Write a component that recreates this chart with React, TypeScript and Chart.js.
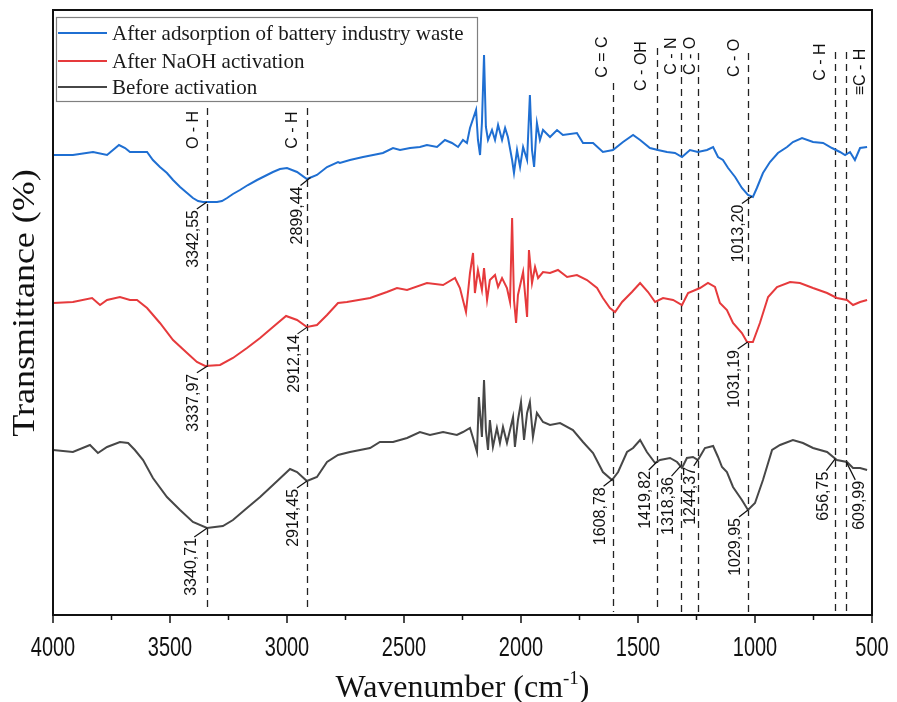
import React, { useEffect, useRef } from 'react';
import { Chart, registerables } from 'chart.js';

Chart.register(...registerables);

// ---------------- DATA ----------------
// wavenumber (cm-1), relative transmittance (offset curves, arbitrary units)
const afterAdsorption: [number, number][] = [
  [4000, 92.0], [3915, 92.0], [3829, 92.6], [3769, 92.0], [3718, 94.0], [3692, 93.4], [3671, 92.6],
  [3628, 92.6], [3598, 92.6], [3573, 91.0], [3543, 89.6], [3513, 88.4], [3487, 87.0], [3457, 85.6],
  [3427, 84.4], [3402, 83.4], [3380, 82.8], [3359, 82.6], [3299, 82.6], [3278, 82.8], [3256, 83.4],
  [3231, 84.2], [3201, 85.0], [3167, 86.0], [3128, 87.0], [3094, 87.8], [3060, 88.6], [3030, 89.2],
  [3000, 89.4], [2957, 88.6],
  [2915, 87.2], [2872, 88.0], [2829, 89.6], [2782, 90.6], [2774, 90.4], [2731, 91.0], [2675, 91.6],
  [2632, 92.0], [2590, 92.4], [2547, 93.4], [2517, 93.0], [2474, 93.4], [2432, 93.6], [2402, 94.0],
  [2359, 93.6], [2325, 95.0], [2295, 94.4], [2269, 93.6], [2248, 95.0], [2231, 94.4], [2218, 97.4],
  [2192, 101.0], [2184, 95.0], [2175, 92.0], [2167, 98.4], [2158, 112.0], [2150, 97.6], [2141, 95.0],
  [2124, 97.0], [2111, 95.0], [2098, 98.0], [2081, 95.0], [2068, 97.4], [2056, 95.6], [2038, 91.0],
  [2030, 88.4], [2017, 93.0], [2004, 89.6], [1991, 93.6], [1974, 91.0], [1962, 104.0], [1953, 93.0],
  [1944, 89.6], [1932, 98.4], [1919, 95.0], [1906, 97.0], [1876, 95.6], [1846, 97.0], [1821, 96.0],
  [1761, 96.4], [1735, 94.4], [1692, 94.4], [1650, 92.6], [1607, 93.0], [1564, 94.6], [1521, 96.0],
  [1491, 95.0], [1449, 93.4], [1415, 93.0], [1376, 92.6], [1342, 92.4], [1312, 91.6], [1278, 93.0],
  [1244, 92.6], [1205, 93.0], [1179, 93.6], [1158, 91.6], [1137, 91.0], [1115, 89.4], [1085, 87.6],
  [1056, 85.4], [1030, 84.0], [1009, 83.6], [992, 85.4], [966, 88.4], [936, 90.6], [902, 92.4],
  [863, 93.6], [838, 94.6], [799, 95.4], [752, 94.6], [709, 94.4], [671, 93.4], [637, 92.6],
  [615, 92.0], [594, 92.6], [573, 91.0], [551, 93.4], [521, 93.6],
];

const afterNaOH: [number, number][] = [
  [4000, 62.4], [3915, 62.6], [3833, 63.4], [3799, 62.0], [3769, 63.0], [3714, 63.6], [3671, 63.0],
  [3641, 63.0], [3598, 61.4], [3543, 58.4], [3487, 55.0], [3427, 52.4], [3385, 50.6], [3350, 49.8],
  [3286, 50.0], [3231, 51.4], [3171, 53.4], [3115, 55.4], [3060, 57.6], [3004, 59.8], [2957, 59.0],
  [2915, 57.6], [2872, 58.0], [2829, 60.0], [2782, 62.4], [2744, 62.6], [2645, 63.4], [2573, 64.6],
  [2530, 65.4], [2487, 65.0], [2402, 66.4], [2333, 66.0], [2282, 67.4], [2261, 65.4], [2235, 60.6],
  [2218, 68.4], [2205, 72.4], [2197, 64.4], [2184, 69.0], [2167, 65.0], [2158, 69.4], [2145, 63.0],
  [2133, 67.0], [2111, 68.0], [2098, 65.6], [2081, 67.4], [2060, 65.4], [2047, 62.6], [2038, 79.4],
  [2030, 63.0], [2021, 58.4], [2013, 64.0], [1991, 68.6], [1974, 59.6], [1966, 73.0], [1953, 66.4],
  [1940, 69.6], [1927, 67.4], [1906, 68.6], [1876, 68.4], [1842, 69.0], [1803, 67.6], [1761, 68.0],
  [1718, 67.0], [1675, 65.4], [1650, 63.4], [1620, 61.4], [1598, 60.6], [1568, 62.6], [1526, 64.6],
  [1491, 66.4], [1457, 64.6], [1427, 62.6], [1393, 63.4], [1350, 63.0], [1312, 62.0], [1286, 64.4],
  [1235, 65.4], [1201, 66.4], [1171, 65.6], [1150, 62.4], [1120, 61.0], [1094, 58.4], [1056, 56.4],
  [1034, 54.6], [1009, 54.6], [979, 58.4], [944, 63.6], [906, 65.6], [850, 66.6], [808, 66.4],
  [752, 65.4], [692, 64.4], [650, 63.4], [607, 63.0], [581, 62.0], [551, 62.6], [521, 63.0],
];

const beforeActivation: [number, number][] = [
  [4000, 33.0], [3915, 32.6], [3842, 34.0], [3808, 32.4], [3769, 33.6], [3714, 34.6], [3679, 34.4],
  [3650, 33.0], [3615, 31.0], [3573, 27.4], [3513, 23.6], [3457, 21.0], [3402, 18.6], [3342, 17.4],
  [3274, 17.8], [3231, 19.0], [3171, 21.4], [3115, 23.6], [3060, 26.0], [2987, 29.2], [2957, 28.6],
  [2915, 26.8], [2872, 27.6], [2829, 30.6], [2782, 32.0], [2731, 32.6], [2645, 33.4], [2603, 34.6],
  [2547, 34.6], [2487, 35.4], [2432, 36.6], [2389, 36.0], [2333, 36.6], [2274, 36.0], [2248, 36.6],
  [2218, 37.4], [2205, 35.4], [2188, 32.6], [2180, 43.6], [2167, 35.6], [2158, 47.0], [2150, 37.0],
  [2141, 33.0], [2133, 39.0], [2120, 33.6], [2103, 37.4], [2090, 34.4], [2077, 37.6], [2060, 34.4],
  [2047, 37.0], [2034, 39.6], [2026, 33.6], [2013, 39.0], [2000, 42.6], [1987, 35.0], [1974, 40.4],
  [1962, 42.6], [1949, 35.6], [1932, 40.4], [1906, 38.6], [1876, 38.0], [1833, 38.4], [1778, 37.0],
  [1735, 34.6], [1692, 32.4], [1650, 28.6], [1611, 27.0], [1585, 28.6], [1547, 32.6], [1521, 33.4],
  [1491, 35.0], [1462, 32.6], [1427, 30.4], [1406, 31.0], [1363, 31.4], [1333, 30.6], [1312, 29.4],
  [1291, 31.4], [1265, 31.6], [1244, 31.0], [1214, 33.4], [1179, 33.8], [1158, 31.6], [1141, 29.6],
  [1120, 28.6], [1094, 25.6], [1056, 23.0], [1030, 21.0], [1000, 22.4], [966, 27.0], [927, 33.0],
  [893, 34.0], [838, 35.0], [795, 34.4], [752, 33.4], [692, 32.6], [650, 31.0], [607, 30.6],
  [581, 29.4], [551, 29.4], [521, 29.0],
];

const seriesNames = ['After adsorption of battery industry waste', 'After NaOH activation', 'Before activation'];

const majorTicks = [4000, 3500, 3000, 2500, 2000, 1500, 1000, 500];
const minorTicks = [3750, 3250, 2750, 2250, 1750, 1250, 750];

const bandWavenumbers = [3340.71, 2914.45, 1608.78, 1419.82, 1318.36, 1244.37, 1029.95, 656.75, 609.99];
const bandNames = ['O - H', 'C - H', 'C = C', 'C - OH', 'C - N', 'C - O', 'C - O', 'C - H', '≡C - H'];

const peakSeries = [0, 0, 0, 1, 1, 1, 2, 2, 2, 2, 2, 2, 2, 2, 2];
const peakWavenumbers = [3342.55, 2899.44, 1013.20, 3337.97, 2912.14, 1031.19, 3340.71, 2914.45, 1608.78, 1419.82, 1318.36, 1244.37, 1029.95, 656.75, 609.99];
const peakTexts = ['3342,55', '2899,44', '1013,20', '3337,97', '2912,14', '1031,19', '3340,71', '2914,45', '1608,78', '1419,82', '1318,36', '1244,37', '1029,95', '656,75', '609,99'];

// ---------------- LAYOUT / STYLE ----------------
const COLORS = ['#1f6fd2', '#e63a3c', '#474747'];
const bandLayout = [
  { top: 101.4, dx: -14, cy: 97.0 },
  { top: 101.4, dx: -14, cy: 97.0 },
  { top: 106.4, dx: -10, cy: 111.6 },
  { top: 113.4, dx: -15, cy: 109.8 },
  { top: 112.4, dx: -9, cy: 111.8 },
  { top: 112.4, dx: -7, cy: 111.8 },
  { top: 112.4, dx: -13, cy: 111.4 },
  { top: 112.6, dx: -15, cy: 110.6 },
  { top: 112.6, dx: 14, cy: 108.6 },
];
const BAND_BOTTOM = 0.6;
const leaderLayout: [number, number][] = [
  [-10, 7], [-10, 8], [-10, 7], [-11, 7], [-10, 7], [-10, 7], [-13, 9], [-10, 7], [-9, 7],
  [-8, 8], [-9, 10], [-4, 6], [-9, 7], [-9, 12], [9, 18],
];

const allSeries = [afterAdsorption, afterNaOH, beforeActivation];

const valueAt = (s: [number, number][], wn: number) => {
  for (let i = 0; i < s.length - 1; i++) {
    const [w1, v1] = s[i];
    const [w2, v2] = s[i + 1];
    if (wn <= w1 && wn >= w2) {
      const t = (w1 - wn) / (w1 - w2);
      return v1 + (v2 - v1) * t;
    }
  }
  return s[s.length - 1][1];
};

const SANS = '"Liberation Sans", Arial, sans-serif';
const SERIF = '"Liberation Serif", "Times New Roman", serif';

const decorPlugin = {
  id: 'decor',
  beforeDatasetsDraw(chart: any) {
    const { ctx } = chart;
    const xs = chart.scales.x;
    const ys = chart.scales.y;
    ctx.save();
    ctx.strokeStyle = '#222';
    ctx.lineWidth = 1.3;
    ctx.setLineDash([7, 5]);
    bandWavenumbers.forEach((wn, i) => {
      const x = Math.round(xs.getPixelForValue(wn)) + 0.5;
      ctx.beginPath();
      ctx.moveTo(x, ys.getPixelForValue(bandLayout[i].top));
      ctx.lineTo(x, ys.getPixelForValue(BAND_BOTTOM));
      ctx.stroke();
    });
    ctx.restore();
  },
  afterDraw(chart: any) {
    const { ctx, chartArea } = chart;
    const xs = chart.scales.x;
    const ys = chart.scales.y;
    const { left, right, top, bottom } = chartArea;
    ctx.save();

    // frame
    ctx.strokeStyle = '#111';
    ctx.lineWidth = 2;
    ctx.setLineDash([]);
    ctx.strokeRect(left, top, right - left, bottom - top);

    // ticks
    ctx.lineWidth = 1.5;
    majorTicks.forEach((w) => {
      const x = xs.getPixelForValue(w);
      ctx.beginPath();
      ctx.moveTo(x, bottom);
      ctx.lineTo(x, bottom + 8);
      ctx.stroke();
    });
    minorTicks.forEach((w) => {
      const x = xs.getPixelForValue(w);
      ctx.beginPath();
      ctx.moveTo(x, bottom);
      ctx.lineTo(x, bottom + 5);
      ctx.stroke();
    });

    // tick labels (condensed)
    ctx.fillStyle = '#111';
    ctx.font = '27px ' + SANS;
    ctx.textAlign = 'center';
    ctx.textBaseline = 'middle';
    majorTicks.forEach((w) => {
      ctx.save();
      ctx.translate(xs.getPixelForValue(w), bottom + 34);
      ctx.scale(0.74, 1);
      ctx.fillText(String(w), 0, 0);
      ctx.restore();
    });

    // x title with superscript
    const cx = (left + right) / 2;
    const ty = bottom + 72;
    ctx.font = '32px ' + SERIF;
    const p1 = 'Wavenumber (cm';
    const p3 = ')';
    const w1 = ctx.measureText(p1).width;
    const w3 = ctx.measureText(p3).width;
    ctx.font = '19px ' + SERIF;
    const sup = '-1';
    const w2 = ctx.measureText(sup).width;
    const start = cx - (w1 + w2 + w3) / 2;
    ctx.textAlign = 'left';
    ctx.textBaseline = 'alphabetic';
    ctx.font = '32px ' + SERIF;
    ctx.fillText(p1, start, ty + 10);
    ctx.font = '19px ' + SERIF;
    ctx.fillText(sup, start + w1, ty - 3);
    ctx.font = '32px ' + SERIF;
    ctx.fillText(p3, start + w1 + w2, ty + 10);

    // y title
    ctx.save();
    ctx.translate(26, 303);
    ctx.rotate(-Math.PI / 2);
    ctx.scale(1, 0.86);
    ctx.textAlign = 'center';
    ctx.textBaseline = 'middle';
    ctx.font = '36px ' + SERIF;
    ctx.fillText('Transmittance (%)', 0, 0);
    ctx.restore();

    // band labels
    ctx.font = '16px ' + SANS;
    bandWavenumbers.forEach((wn, i) => {
      const x = xs.getPixelForValue(wn) + bandLayout[i].dx;
      const y = ys.getPixelForValue(bandLayout[i].cy);
      ctx.save();
      ctx.translate(x, y);
      ctx.rotate(-Math.PI / 2);
      ctx.textAlign = 'center';
      ctx.textBaseline = 'middle';
      ctx.fillText(bandNames[i], 0, 0);
      ctx.restore();
    });

    // peak labels with leaders
    ctx.strokeStyle = '#111';
    ctx.lineWidth = 1.2;
    peakWavenumbers.forEach((wn, i) => {
      const s = allSeries[peakSeries[i]];
      const px = xs.getPixelForValue(wn);
      const py = ys.getPixelForValue(valueAt(s, wn));
      const [dx, dy] = leaderLayout[i];
      const ex = px + dx;
      const ey = py + dy;
      ctx.beginPath();
      ctx.moveTo(px, py);
      ctx.lineTo(ex, ey);
      ctx.stroke();
      ctx.save();
      ctx.translate(dx < 0 ? ex - 3 : ex + 4, ey + 1);
      ctx.rotate(-Math.PI / 2);
      ctx.textAlign = 'right';
      ctx.textBaseline = 'middle';
      ctx.font = '16px ' + SANS;
      ctx.fillText(peakTexts[i], 0, 0);
      ctx.restore();
    });

    // legend
    ctx.strokeStyle = '#808080';
    ctx.lineWidth = 1.2;
    ctx.strokeRect(56.5, 17.5, 421, 84);
    const rows = [33, 61, 87];
    seriesNames.forEach((name, i) => {
      ctx.strokeStyle = COLORS[i];
      ctx.lineWidth = 2;
      ctx.beginPath();
      ctx.moveTo(58, rows[i]);
      ctx.lineTo(107, rows[i]);
      ctx.stroke();
      ctx.fillStyle = '#1a1a1a';
      ctx.font = '21px ' + SERIF;
      ctx.textAlign = 'left';
      ctx.textBaseline = 'middle';
      ctx.fillText(name, 112, rows[i] + 1);
    });

    ctx.restore();
  },
};

export default function App() {
  const ref = useRef<HTMLCanvasElement | null>(null);
  useEffect(() => {
    if (!ref.current) return;
    const chart = new Chart(ref.current, {
      type: 'line',
      data: {
        datasets: allSeries.map((s, i) => ({
          label: seriesNames[i],
          data: s.map(([x, y]) => ({ x, y })),
          borderColor: COLORS[i],
          borderWidth: 2,
          pointRadius: 0,
          tension: 0,
          fill: false,
        })),
      },
      options: {
        animation: false,
        responsive: false,
        devicePixelRatio: 1,
        layout: { padding: { left: 53, right: 25, top: 10, bottom: 87 } },
        scales: {
          x: { type: 'linear', min: 500, max: 4000, reverse: true, display: false },
          y: { type: 'linear', min: 0, max: 121, display: false },
        },
        plugins: { legend: { display: false }, tooltip: { enabled: false } },
      },
      plugins: [decorPlugin],
    });
    return () => chart.destroy();
  }, []);
  return (
    <div style={{ position: 'fixed', left: 0, top: 0, width: 897, height: 702, background: '#fff' }}>
      <canvas ref={ref} width={897} height={702} style={{ width: 897, height: 702, display: 'block' }} />
    </div>
  );
}
